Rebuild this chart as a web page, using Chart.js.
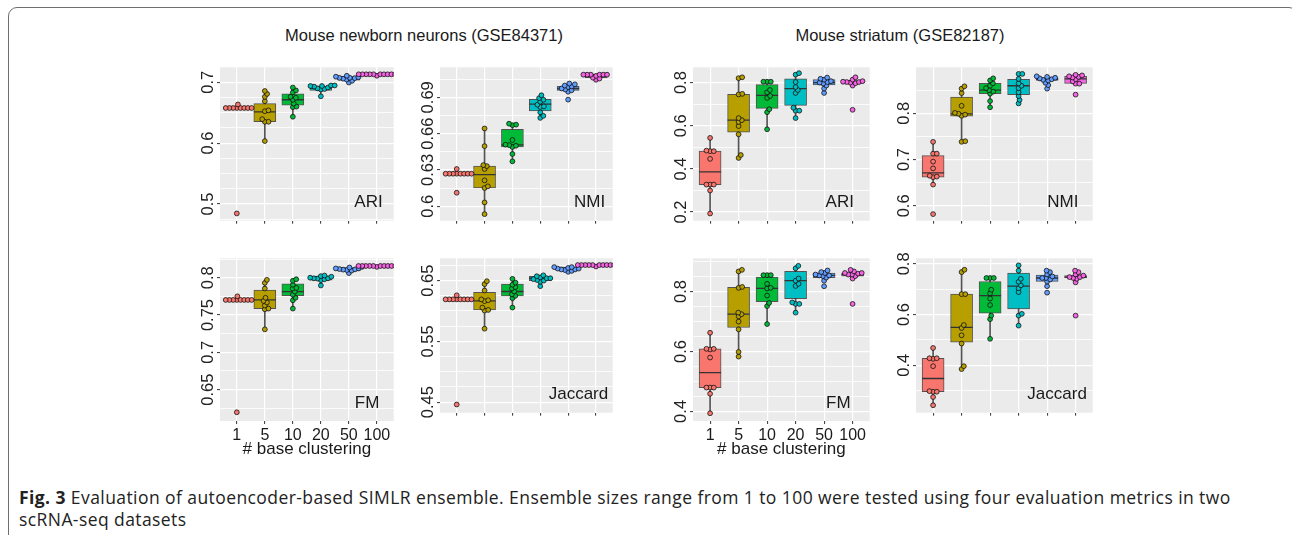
<!DOCTYPE html>
<html>
<head>
<meta charset="utf-8">
<script src="https://cdn.jsdelivr.net/npm/chart.js@4.4.1/dist/chart.umd.min.js"></script>
<style>
  body { margin: 0; background: #fff; width: 1292px; height: 535px; overflow: hidden; position: relative; font-family: "Liberation Sans", Arial, sans-serif; }
  .frame { position: absolute; left: 8px; top: 7px; width: 1290px; height: 620px; border: 1.5px solid #6e6e6e; border-radius: 9px; box-sizing: border-box; }
  .ttl { position: absolute; font-size: 16.5px; line-height: 20px; color: #1a1a1a; transform: translateX(-50%); white-space: nowrap; }
  .cap { position: absolute; left: 19px; top: 486px; font-family: "Open Sans", Lato, sans-serif; font-size: 17.5px; letter-spacing: 0.42px; line-height: 22px; color: #222; white-space: nowrap; }
  canvas { position: absolute; }
</style>
</head>
<body>
<div class="frame"></div>
<div class="ttl" style="left:424px;top:25px">Mouse newborn neurons (GSE84371)</div>
<div class="ttl" style="left:900px;top:25px">Mouse striatum (GSE82187)</div>
<div class="cap"><b>Fig. 3</b> Evaluation of autoencoder-based SIMLR ensemble. Ensemble sizes range from 1 to 100 were tested using four evaluation metrics in two<br>scRNA-seq datasets</div>

<script>
// grupos (# base clustering) y colores por defecto de ggplot
var groups = ['1', '5', '10', '20', '50', '100'];
var fills = ['#F8766D', '#B79F00', '#00BA38', '#00BFC4', '#619CFF', '#F564E3'];

// Mouse newborn neurons - ARI
var nbAriTicks = [0.5, 0.6, 0.7];
var nbAriBox = [ // lo, q1, mediana, q3, hi
  [0.6577, 0.6577, 0.6577, 0.6577, 0.6577],
  [0.6034, 0.6351, 0.6514, 0.6649, 0.6856],
  [0.6433, 0.6625, 0.6712, 0.6808, 0.6913],
  [0.6769, 0.6865, 0.6904, 0.6938, 0.6947],
  [0.6995, 0.7034, 0.7067, 0.7091, 0.7106],
  [0.713, 0.713, 0.713, 0.713, 0.713]
];
var nbAriPts = [
  [0.4846, 0.6577, 0.6577, 0.6577, 0.6577, 0.6577, 0.6577, 0.6577, 0.6577, 0.6635],
  [0.6856, 0.6808, 0.676, 0.6688, 0.6538, 0.6524, 0.6394, 0.6351, 0.6351, 0.6034],
  [0.6913, 0.6865, 0.6832, 0.676, 0.6745, 0.6712, 0.6649, 0.66, 0.659, 0.6433],
  [0.6947, 0.6947, 0.6938, 0.6938, 0.6928, 0.6913, 0.6899, 0.6889, 0.688, 0.6769],
  [0.7106, 0.7091, 0.7082, 0.7072, 0.7072, 0.7067, 0.7058, 0.7043, 0.7024, 0.6995],
  [0.713, 0.713, 0.713, 0.713, 0.713, 0.713, 0.713, 0.713, 0.713, 0.713, 0.7106]
];

// Mouse newborn neurons - NMI
var nbNmiTicks = [0.6, 0.63, 0.66, 0.69];
var nbNmiBox = [
  [0.6269, 0.6269, 0.6269, 0.6269, 0.6269],
  [0.5935, 0.6151, 0.6262, 0.6332, 0.6643],
  [0.6371, 0.649, 0.6507, 0.6636, 0.6682],
  [0.673, 0.6788, 0.6844, 0.6883, 0.6917],
  [0.6946, 0.6958, 0.6973, 0.699, 0.7014],
  [0.7045, 0.7062, 0.7087, 0.7092, 0.7092]
];
var nbNmiPts = [
  [0.6112, 0.6269, 0.6269, 0.6269, 0.6269, 0.6269, 0.6269, 0.6269, 0.6269, 0.6308],
  [0.6643, 0.6497, 0.634, 0.6332, 0.6308, 0.6214, 0.6165, 0.6151, 0.6032, 0.5935],
  [0.6682, 0.6674, 0.667, 0.6548, 0.6509, 0.6505, 0.65, 0.649, 0.6432, 0.6371],
  [0.6917, 0.6893, 0.688, 0.6864, 0.6839, 0.6825, 0.682, 0.6776, 0.6747, 0.673],
  [0.7014, 0.7007, 0.6997, 0.699, 0.6985, 0.6973, 0.6965, 0.6958, 0.6946, 0.6881],
  [0.7087, 0.7087, 0.7087, 0.7087, 0.7087, 0.7087, 0.7077, 0.7062, 0.7055, 0.7045]
];

// Mouse striatum - ARI
var stAriTicks = [0.2, 0.4, 0.6, 0.8];
var stAriBox = [
  [0.1932, 0.3274, 0.3863, 0.4822, 0.5438],
  [0.4507, 0.5699, 0.626, 0.7452, 0.8247],
  [0.5836, 0.6808, 0.7411, 0.7904, 0.8041],
  [0.6356, 0.6945, 0.7726, 0.8178, 0.8438],
  [0.752, 0.789, 0.8, 0.8137, 0.8233],
  [0.7863, 0.7973, 0.8027, 0.8096, 0.8247]
];
var stAriPts = [
  [0.5438, 0.4849, 0.4822, 0.4822, 0.4466, 0.3274, 0.3274, 0.3274, 0.3, 0.1932],
  [0.8247, 0.8205, 0.7479, 0.7452, 0.6356, 0.626, 0.6178, 0.5986, 0.5603, 0.4644, 0.4507],
  [0.8041, 0.8041, 0.8041, 0.7658, 0.7548, 0.7384, 0.7288, 0.6767, 0.663, 0.5836],
  [0.8438, 0.837, 0.8027, 0.7795, 0.7658, 0.7521, 0.6836, 0.6699, 0.6699, 0.6356],
  [0.8233, 0.8178, 0.8137, 0.8068, 0.8027, 0.8, 0.7959, 0.7863, 0.7726, 0.752],
  [0.8247, 0.8137, 0.8068, 0.8041, 0.8027, 0.8027, 0.8, 0.7973, 0.7863, 0.674]
];

// Mouse striatum - NMI
var stNmiTicks = [0.6, 0.7, 0.8];
var stNmiBox = [
  [0.6459, 0.6618, 0.6713, 0.7083, 0.7382],
  [0.7382, 0.7936, 0.7987, 0.835, 0.858],
  [0.8127, 0.842, 0.8497, 0.8643, 0.8752],
  [0.821, 0.8401, 0.8592, 0.8732, 0.8847],
  [0.8656, 0.8707, 0.8732, 0.8764, 0.8796],
  [0.8637, 0.8643, 0.8739, 0.8796, 0.8828]
];
var stNmiPts = [
  [0.7382, 0.7127, 0.7127, 0.6955, 0.6809, 0.665, 0.6631, 0.6618, 0.6459, 0.5822],
  [0.858, 0.8529, 0.8433, 0.8159, 0.8006, 0.7987, 0.7968, 0.7943, 0.7395, 0.7382],
  [0.8752, 0.8707, 0.8643, 0.8592, 0.8541, 0.8497, 0.8465, 0.842, 0.8261, 0.8127],
  [0.8847, 0.8847, 0.8739, 0.8643, 0.8592, 0.8541, 0.8452, 0.8369, 0.8287, 0.821],
  [0.8796, 0.8783, 0.8764, 0.875, 0.8732, 0.8719, 0.8707, 0.8656, 0.8605, 0.8529],
  [0.8828, 0.8815, 0.8796, 0.8783, 0.8771, 0.8732, 0.8688, 0.8637, 0.8637, 0.8401]
];

// Mouse newborn neurons - FM
var nbFmTicks = [0.65, 0.7, 0.75, 0.8];
var nbFmBox = [
  [0.7702, 0.7702, 0.7702, 0.7702, 0.7702],
  [0.7308, 0.7586, 0.7702, 0.7834, 0.7971],
  [0.7586, 0.776, 0.7814, 0.7917, 0.7979],
  [0.7896, 0.7967, 0.7992, 0.8021, 0.8029],
  [0.8062, 0.8095, 0.8116, 0.8137, 0.8145],
  [0.8157, 0.8157, 0.8157, 0.8157, 0.8157]
];
var nbFmPts = [
  [0.6197, 0.7702, 0.7702, 0.7702, 0.7702, 0.7702, 0.7702, 0.7702, 0.7702, 0.7751],
  [0.7971, 0.793, 0.7855, 0.7731, 0.7689, 0.7668, 0.7627, 0.7586, 0.7577, 0.7308],
  [0.7979, 0.7959, 0.7905, 0.7863, 0.7855, 0.7814, 0.7772, 0.7731, 0.7697, 0.7586],
  [0.8029, 0.8021, 0.8013, 0.8, 0.7992, 0.7992, 0.7988, 0.7979, 0.7967, 0.7896],
  [0.8145, 0.8137, 0.8124, 0.8124, 0.8116, 0.8112, 0.8108, 0.8103, 0.8095, 0.8062],
  [0.8157, 0.8157, 0.8157, 0.8157, 0.8157, 0.8157, 0.8157, 0.8157, 0.8157, 0.8157, 0.8145]
];

// Mouse newborn neurons - Jaccard
var nbJacTicks = [0.45, 0.55, 0.65];
var nbJacBox = [
  [0.6191, 0.6191, 0.6191, 0.6191, 0.6191],
  [0.5708, 0.6017, 0.6167, 0.6307, 0.649],
  [0.6056, 0.6249, 0.6321, 0.6442, 0.6529],
  [0.6408, 0.65, 0.6539, 0.6572, 0.6587],
  [0.6645, 0.6674, 0.6698, 0.6722, 0.6722],
  [0.6756, 0.6756, 0.6756, 0.6756, 0.6756]
];
var nbJacPts = [
  [0.4461, 0.6191, 0.6191, 0.6191, 0.6191, 0.6191, 0.6191, 0.6191, 0.6191, 0.6258],
  [0.649, 0.6442, 0.6336, 0.6191, 0.6177, 0.6162, 0.6056, 0.6017, 0.6007, 0.5708],
  [0.6529, 0.6466, 0.6432, 0.6394, 0.637, 0.6321, 0.6273, 0.6249, 0.621, 0.6056],
  [0.6587, 0.6572, 0.6553, 0.6539, 0.6539, 0.6524, 0.651, 0.65, 0.6481, 0.6408],
  [0.6722, 0.6722, 0.6708, 0.6698, 0.6698, 0.6684, 0.6684, 0.6674, 0.666, 0.6645],
  [0.6756, 0.6756, 0.6756, 0.6756, 0.6756, 0.6756, 0.6756, 0.6756, 0.6756, 0.6756, 0.6732]
];

// Mouse striatum - FM
var stFmTicks = [0.4, 0.6, 0.8];
var stFmBox = [
  [0.3938, 0.4796, 0.5292, 0.6088, 0.6625],
  [0.5829, 0.6801, 0.7245, 0.8145, 0.8724],
  [0.6915, 0.7659, 0.8103, 0.8486, 0.8548],
  [0.7297, 0.7762, 0.8362, 0.8672, 0.8858],
  [0.8362, 0.8465, 0.8537, 0.862, 0.8703],
  [0.8434, 0.8517, 0.8568, 0.862, 0.8724]
];
var stFmPts = [
  [0.6625, 0.6088, 0.6088, 0.6067, 0.5798, 0.4796, 0.4796, 0.4796, 0.4589, 0.3938],
  [0.8724, 0.8672, 0.8155, 0.8124, 0.7297, 0.7245, 0.7173, 0.6997, 0.6739, 0.5984, 0.5829],
  [0.8548, 0.8548, 0.8548, 0.8258, 0.8124, 0.8103, 0.7866, 0.7618, 0.7514, 0.6915],
  [0.8858, 0.8775, 0.8434, 0.8362, 0.8258, 0.8186, 0.7638, 0.7587, 0.7587, 0.7297],
  [0.8703, 0.8651, 0.862, 0.8568, 0.8537, 0.8537, 0.8517, 0.8465, 0.8362, 0.8176],
  [0.8724, 0.8672, 0.862, 0.862, 0.8599, 0.8568, 0.8568, 0.8517, 0.8434, 0.7587]
];

// Mouse striatum - Jaccard
var stJacTicks = [0.4, 0.6, 0.8];
var stJacBox = [
  [0.2423, 0.2957, 0.3478, 0.4278, 0.4684],
  [0.3849, 0.4916, 0.5496, 0.6806, 0.7768],
  [0.5043, 0.6052, 0.6748, 0.7304, 0.7443],
  [0.5565, 0.6226, 0.7119, 0.7641, 0.7942],
  [0.7119, 0.7304, 0.7443, 0.7559, 0.7733],
  [0.727, 0.7443, 0.7478, 0.7536, 0.7733]
];
var stJacPts = [
  [0.4684, 0.4278, 0.4278, 0.4255, 0.3965, 0.298, 0.2957, 0.2957, 0.2748, 0.2423],
  [0.7768, 0.7675, 0.6806, 0.6806, 0.5588, 0.5472, 0.5183, 0.4858, 0.3965, 0.3849],
  [0.7443, 0.7443, 0.7443, 0.698, 0.6841, 0.6632, 0.6377, 0.5959, 0.582, 0.5043],
  [0.7942, 0.7733, 0.7409, 0.7293, 0.7154, 0.7038, 0.6887, 0.6029, 0.5959, 0.5565],
  [0.7733, 0.7675, 0.7583, 0.7502, 0.7443, 0.7443, 0.7386, 0.7304, 0.7119, 0.6864],
  [0.7733, 0.7675, 0.7583, 0.7536, 0.7478, 0.7478, 0.7443, 0.7409, 0.727, 0.5959]
];

// posición de cada panel (área gris) y rango del eje y
var panels = [
  { left: 220, top: 55, w: 186, h: 174, min: 0.4727, max: 0.7245, step: 0.025, ticks: nbAriTicks, box: nbAriBox, pts: nbAriPts, label: 'ARI', lx: 5.7, axis: false },
  { left: 440, top: 55, w: 185, h: 174, min: 0.5881, max: 0.7148, step: 0.015, ticks: nbNmiTicks, box: nbNmiBox, pts: nbNmiPts, label: 'NMI', lx: 5.77, axis: false },
  { left: 693, top: 55, w: 189, h: 174, min: 0.16, max: 0.871, step: 0.1, ticks: stAriTicks, box: stAriBox, pts: stAriPts, label: 'ARI', lx: 5.55, axis: false },
  { left: 916, top: 55, w: 189, h: 174, min: 0.568, max: 0.899, step: 0.05, ticks: stNmiTicks, box: stNmiBox, pts: stNmiPts, label: 'NMI', lx: 5.55, axis: false },
  { left: 220, top: 246, w: 186, h: 175, min: 0.608, max: 0.826, step: 0.025, ticks: nbFmTicks, box: nbFmBox, pts: nbFmPts, label: 'FM', lx: 5.65, axis: true },
  { left: 440, top: 246, w: 185, h: 175, min: 0.4326, max: 0.6867, step: 0.025, ticks: nbJacTicks, box: nbJacBox, pts: nbJacPts, label: 'Jaccard', lx: 5.37, axis: false },
  { left: 693, top: 246, w: 189, h: 175, min: 0.368, max: 0.911, step: 0.05, ticks: stFmTicks, box: stFmBox, pts: stFmPts, label: 'FM', lx: 5.5, axis: true },
  { left: 916, top: 246, w: 189, h: 175, min: 0.213, max: 0.822, step: 0.1, ticks: stJacTicks, box: stJacBox, pts: stJacPts, label: 'Jaccard', lx: 5.35, axis: false }
];

var YW = 34;       // ancho reservado para las etiquetas del eje y
var GAP = 3.7;     // separación mínima entre puntos (px) del beeswarm
var FONT = '"Liberation Sans", Arial, sans-serif';
Chart.defaults.font.family = FONT;

function isLabelled(list, v) {
  return list.some(function (t) { return Math.abs(t - v) < 1e-9; });
}

// fondo gris, etiquetas del eje y giradas y nombre de la métrica
var panelDeco = {
  id: 'panelDeco',
  beforeDraw: function (chart) {
    var a = chart.chartArea, ctx = chart.ctx;
    ctx.save();
    ctx.fillStyle = '#EBEBEB';
    ctx.fillRect(a.left, a.top, a.right - a.left, a.bottom - a.top);
    ctx.restore();
  },
  afterDraw: function (chart, args, opts) {
    var a = chart.chartArea, ctx = chart.ctx, ys = chart.scales.y, xs = chart.scales.x;
    ctx.save();
    ctx.fillStyle = '#222';
    ctx.font = '16.5px ' + FONT;
    ctx.textAlign = 'center';
    ctx.textBaseline = 'alphabetic';
    opts.ticks.forEach(function (t) {
      ctx.save();
      ctx.translate(a.left - 7, ys.getPixelForValue(t));
      ctx.rotate(-Math.PI / 2);
      ctx.fillText(String(t), 0, 0);
      ctx.restore();
    });
    ctx.fillStyle = '#1a1a1a';
    ctx.font = '17px ' + FONT;
    ctx.textBaseline = 'middle';
    ctx.fillText(opts.label, xs.getPixelForValue(opts.lx), a.bottom - 18);
    ctx.restore();
  }
};

// reparte los puntos de cada grupo como un beeswarm (en píxeles)
function swarm(chart, pts) {
  var xs = chart.scales.x, ys = chart.scales.y;
  var ppu = xs.getPixelForValue(2) - xs.getPixelForValue(1);
  var data = [], cols = [];
  pts.forEach(function (vals, g) {
    var placed = [];
    var order = vals.map(function (v, i) { return i; }).sort(function (a, b) { return vals[a] - vals[b]; });
    order.forEach(function (i) {
      var py = ys.getPixelForValue(vals[i]);
      var bad = [];
      placed.forEach(function (p) {
        var dy = Math.abs(p.y - py);
        if (dy < GAP) {
          var w = Math.sqrt(GAP * GAP - dy * dy);
          bad.push([p.x - w, p.x + w]);
        }
      });
      var cands = [0];
      bad.forEach(function (b) { cands.push(b[0], b[1]); });
      cands.sort(function (a, b) { return (Math.abs(a) - Math.abs(b)) || (b - a); });
      var x = cands.find(function (c) {
        return bad.every(function (b) { return c <= b[0] + 1e-6 || c >= b[1] - 1e-6; });
      });
      placed.push({ x: x, y: py });
      data.push({ x: g + 1 + x / ppu, y: vals[i] });
      cols.push(fills[g]);
    });
  });
  return { data: data, cols: cols };
}

panels.forEach(function (p, k) {
  var XH = p.axis ? 39 : 4;
  var cv = document.createElement('canvas');
  cv.width = p.w + YW;
  cv.height = p.h + XH;
  cv.style.left = (p.left - YW) + 'px';
  cv.style.top = p.top + 'px';
  document.body.appendChild(cv);

  var gridVals = [];
  for (var v = Math.ceil(p.min / p.step - 1e-9) * p.step; v <= p.max + 1e-9; v += p.step) {
    gridVals.push(Math.round(v * 10000) / 10000);
  }

  var chart = new Chart(cv, {
    type: 'bar',
    data: {
      datasets: [{
        type: 'scatter',
        label: 'puntos',
        order: 0,
        data: [],
        pointRadius: 2.4,
        pointBorderWidth: 0.8,
        pointBorderColor: '#111',
        pointBackgroundColor: []
      }, {
        type: 'scatter',
        label: 'mediana',
        order: 1,
        data: p.box.map(function (b, g) { return { x: g + 1, y: b[2] }; }),
        pointStyle: 'line',
        pointRadius: 11,
        pointBorderWidth: 1.3,
        pointBorderColor: '#333'
      }, {
        label: 'caja',
        order: 2,
        grouped: false,
        data: p.box.map(function (b, g) { return { x: g + 1, y: [b[1], b[3]] }; }),
        backgroundColor: fills,
        borderColor: 'rgba(45,45,45,0.8)',
        borderWidth: 1,
        borderSkipped: false,
        barThickness: 22
      }, {
        label: 'bigote',
        order: 3,
        grouped: false,
        data: p.box.map(function (b, g) { return { x: g + 1, y: [b[0], b[4]] }; }),
        backgroundColor: '#555',
        barThickness: 1
      }]
    },
    options: {
      responsive: false,
      animation: false,
      events: [],
      layout: { padding: 0 },
      plugins: {
        legend: { display: false },
        tooltip: { enabled: false },
        panelDeco: { ticks: p.ticks, label: p.label, lx: p.lx }
      },
      scales: {
        x: {
          type: 'linear',
          min: 0.4,
          max: 6.6,
          offset: false,
          bounds: 'data',
          afterBuildTicks: function (s) { s.ticks = groups.map(function (g, i) { return { value: i + 1 }; }); },
          afterFit: function (s) { s.height = XH; },
          ticks: {
            display: p.axis,
            autoSkip: false,
            maxRotation: 0,
            padding: 2,
            color: '#1a1a1a',
            font: { size: 16 },
            callback: function (val) { return groups[Math.round(val) - 1]; }
          },
          grid: { offset: false, color: '#fff', lineWidth: 1.2, tickColor: '#333', tickLength: 3, tickWidth: 1 },
          border: { display: false },
          title: { display: p.axis, text: '# base clustering', color: '#1a1a1a', font: { size: 17 }, padding: 0 }
        },
        y: {
          type: 'linear',
          min: p.min,
          max: p.max,
          beginAtZero: false,
          bounds: 'data',
          afterBuildTicks: function (s) { s.ticks = gridVals.map(function (v) { return { value: v }; }); },
          afterFit: function (s) { s.width = YW; },
          ticks: { display: false },
          grid: {
            color: '#fff',
            lineWidth: function (c) { return c.tick && isLabelled(p.ticks, c.tick.value) ? 1.2 : 0.8; },
            tickColor: function (c) { return c.tick && isLabelled(p.ticks, c.tick.value) ? '#333' : 'rgba(0,0,0,0)'; },
            tickLength: 3,
            tickWidth: 1
          },
          border: { display: false }
        }
      }
    },
    plugins: [panelDeco]
  });

  var sw = swarm(chart, p.pts);
  chart.data.datasets[0].data = sw.data;
  chart.data.datasets[0].pointBackgroundColor = sw.cols;
  chart.update('none');
});
</script>
</body>
</html>
